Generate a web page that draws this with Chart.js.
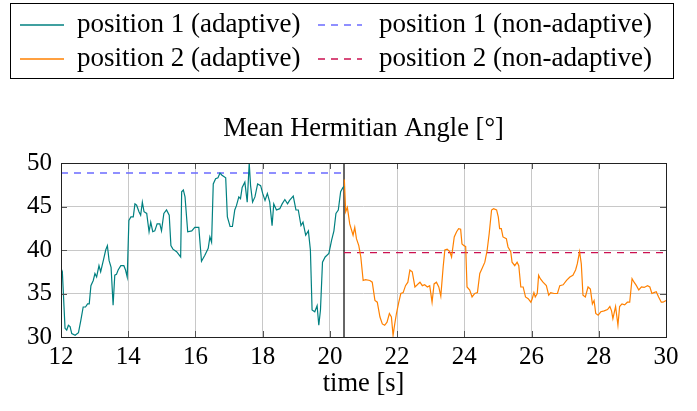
<!DOCTYPE html>
<html>
<head>
<meta charset="utf-8">
<script src="https://cdn.jsdelivr.net/npm/chart.js@4.4.0/dist/chart.umd.min.js"></script>
<style>
  html, body { margin: 0; padding: 0; background: #fff; }
</style>
</head>
<body>
<canvas id="myChart" width="697" height="411"></canvas>
<script>
// time [s] and mean hermitian angle [deg]
const pos1Time = [12.00, 12.04, 12.12, 12.17, 12.22, 12.27, 12.32, 12.42, 12.52, 12.59, 12.66, 12.73, 12.79, 12.84, 12.89, 12.96, 13.01, 13.06, 13.13, 13.18, 13.26, 13.33, 13.38, 13.43, 13.49, 13.55, 13.60, 13.65, 13.70, 13.78, 13.87, 13.92, 13.97, 14.02, 14.08, 14.15, 14.20, 14.25, 14.32, 14.37, 14.42, 14.47, 14.55, 14.62, 14.67, 14.73, 14.79, 14.86, 14.94, 14.99, 15.06, 15.14, 15.22, 15.27, 15.33, 15.44, 15.56, 15.59, 15.64, 15.69, 15.77, 15.89, 15.98, 16.10, 16.18, 16.28, 16.38, 16.43, 16.48, 16.53, 16.60, 16.67, 16.73, 16.79, 16.90, 16.95, 17.03, 17.10, 17.17, 17.22, 17.29, 17.34, 17.39, 17.47, 17.54, 17.60, 17.64, 17.70, 17.77, 17.85, 17.94, 18.00, 18.07, 18.14, 18.21, 18.28, 18.33, 18.41, 18.51, 18.58, 18.66, 18.74, 18.80, 18.91, 18.99, 19.06, 19.14, 19.20, 19.28, 19.36, 19.42, 19.47, 19.55, 19.62, 19.67, 19.72, 19.78, 19.86, 19.97, 20.05, 20.12, 20.18, 20.25, 20.32, 20.39, 20.42];
const pos1Angle = [37.9, 37.5, 31.0, 30.8, 31.35, 31.2, 30.4, 30.2, 30.5, 31.9, 33.45, 33.45, 33.8, 33.8, 35.9, 36.5, 37.3, 36.9, 38.2, 37.5, 38.8, 40.0, 40.5, 38.8, 38.0, 33.65, 37.1, 37.2, 37.7, 38.2, 38.2, 37.7, 36.9, 43.4, 43.8, 43.8, 45.3, 45.15, 44.4, 44.0, 45.5, 44.4, 44.2, 42.1, 43.2, 42.1, 42.2, 43.0, 43.0, 42.2, 44.2, 44.6, 44.0, 40.5, 40.1, 39.8, 39.2, 46.7, 46.9, 46.1, 42.1, 42.2, 42.6, 42.6, 38.7, 39.4, 40.2, 41.5, 40.9, 47.6, 48.2, 48.3, 48.85, 48.6, 48.3, 43.8, 42.7, 42.7, 44.6, 45.1, 46.1, 45.9, 47.2, 47.8, 45.5, 50.0, 47.4, 45.5, 46.1, 47.6, 47.4, 46.5, 45.7, 46.5, 45.5, 42.8, 45.3, 44.6, 44.75, 45.3, 45.8, 45.3, 45.7, 46.2, 44.6, 44.6, 42.8, 43.2, 41.7, 42.2, 40.0, 33.1, 32.9, 33.6, 31.35, 33.1, 38.6, 39.2, 39.6, 41.1, 42.2, 44.2, 44.6, 46.7, 47.2, 47.3];

const pos2Time = [20.43, 20.47, 20.52, 20.59, 20.69, 20.74, 20.79, 20.86, 20.92, 20.99, 21.06, 21.19, 21.26, 21.34, 21.41, 21.49, 21.56, 21.63, 21.70, 21.77, 21.83, 21.88, 21.93, 21.98, 22.05, 22.11, 22.18, 22.25, 22.32, 22.38, 22.45, 22.53, 22.60, 22.68, 22.75, 22.82, 22.90, 22.97, 23.04, 23.10, 23.17, 23.24, 23.30, 23.37, 23.42, 23.49, 23.57, 23.62, 23.70, 23.77, 23.83, 23.89, 23.93, 23.99, 24.04, 24.08, 24.16, 24.23, 24.31, 24.39, 24.46, 24.53, 24.61, 24.68, 24.74, 24.81, 24.87, 24.96, 25.01, 25.05, 25.10, 25.15, 25.25, 25.30, 25.38, 25.42, 25.50, 25.57, 25.62, 25.68, 25.75, 25.82, 25.90, 25.98, 26.02, 26.07, 26.11, 26.17, 26.21, 26.26, 26.34, 26.44, 26.51, 26.57, 26.67, 26.77, 26.84, 26.94, 27.04, 27.14, 27.23, 27.31, 27.36, 27.43, 27.48, 27.53, 27.60, 27.68, 27.75, 27.81, 27.86, 27.91, 27.98, 28.06, 28.16, 28.26, 28.33, 28.38, 28.42, 28.50, 28.57, 28.62, 28.69, 28.77, 28.85, 28.92, 28.99, 29.05, 29.12, 29.19, 29.27, 29.35, 29.45, 29.52, 29.58, 29.64, 29.71, 29.78, 29.86, 29.91, 30.00];
const pos2Angle = [48.1, 44.4, 44.9, 43.0, 41.7, 42.6, 41.3, 40.5, 39.2, 36.5, 36.6, 36.5, 36.3, 34.2, 34.0, 32.3, 31.5, 31.35, 31.7, 32.7, 32.3, 30.2, 31.5, 32.7, 34.0, 35.0, 35.1, 35.9, 36.3, 37.7, 37.5, 35.75, 36.0, 36.3, 35.9, 36.0, 35.75, 35.9, 34.0, 36.1, 36.3, 35.75, 34.7, 38.05, 40.0, 40.1, 39.8, 39.2, 41.5, 42.1, 42.45, 42.4, 40.7, 40.5, 40.4, 35.75, 35.4, 34.6, 35.0, 35.1, 37.3, 37.9, 38.6, 40.0, 41.9, 44.6, 44.75, 44.6, 43.8, 42.45, 42.45, 41.5, 41.3, 40.35, 39.8, 38.6, 38.2, 38.6, 38.2, 35.75, 35.75, 34.6, 34.4, 34.0, 34.4, 35.1, 34.6, 35.0, 37.1, 36.7, 36.3, 35.9, 34.8, 35.1, 35.0, 35.0, 35.9, 36.0, 36.5, 36.9, 37.1, 37.7, 38.4, 39.8, 38.4, 34.8, 34.6, 35.75, 35.5, 33.8, 34.2, 32.7, 32.5, 32.9, 33.0, 33.15, 33.5, 33.0, 32.1, 33.5, 31.35, 33.5, 33.8, 33.7, 34.0, 34.0, 36.7, 36.3, 35.9, 35.4, 35.75, 35.7, 35.9, 35.75, 35.0, 35.1, 35.2, 34.6, 34.0, 34.0, 34.2];

// non-adaptive levels, each held over its own time span
const nonAdaptiveTime1 = [12, 20.42];
const nonAdaptiveAngle1 = [48.85, 48.85];
const nonAdaptiveTime2 = [20.42, 30];
const nonAdaptiveAngle2 = [39.7, 39.7];

// switch between position 1 and position 2
const switchTime = [20.42, 20.42];
const switchAngle = [30, 50];

const xTicks = [12, 14, 16, 18, 20, 22, 24, 26, 28, 30];
const yTicks = [30, 35, 40, 45, 50];

const serif = "'Liberation Serif', 'DejaVu Serif', serif";

function toPoints(xs, ys) {
    return xs.map((x, i) => ({ x: x, y: ys[i] }));
}

// pgfplots style frame, inward ticks, title and boxed legend
const decorations = {
    id: 'decorations',
    afterDatasetsDraw(chart) {
        const ctx = chart.ctx;
        const area = chart.chartArea;
        const xs = chart.scales.x;
        const ys = chart.scales.y;
        ctx.save();

        ctx.strokeStyle = '#555';
        ctx.lineWidth = 1;
        xTicks.forEach(t => {
            const px = Math.round(xs.getPixelForValue(t)) + 0.5;
            ctx.beginPath();
            ctx.moveTo(px, area.bottom); ctx.lineTo(px, area.bottom - 6);
            ctx.moveTo(px, area.top); ctx.lineTo(px, area.top + 6);
            ctx.stroke();
        });
        yTicks.forEach(t => {
            const py = Math.round(ys.getPixelForValue(t)) + 0.5;
            ctx.beginPath();
            ctx.moveTo(area.left, py); ctx.lineTo(area.left + 6, py);
            ctx.moveTo(area.right, py); ctx.lineTo(area.right - 6, py);
            ctx.stroke();
        });

        ctx.strokeStyle = '#222';
        ctx.strokeRect(Math.round(area.left) + 0.5, Math.round(area.top) + 0.5,
            Math.round(area.right - area.left), Math.round(area.bottom - area.top));

        ctx.fillStyle = '#000';
        ctx.font = '26.5px ' + serif;
        ctx.textAlign = 'center';
        ctx.textBaseline = 'alphabetic';
        ctx.fillText('Mean Hermitian Angle [°]', (area.left + area.right) / 2, 136);

        // legend
        ctx.strokeStyle = '#000';
        ctx.lineWidth = 1;
        ctx.strokeRect(10.5, 3.5, 663, 75);
        const cells = [[0, 20, 25, 77], [1, 20, 59, 77], [2, 318, 25, 379], [3, 318, 59, 379]];
        ctx.textAlign = 'left';
        ctx.font = '27px ' + serif;
        cells.forEach(([i, x, y, tx]) => {
            const ds = chart.data.datasets[i];
            ctx.save();
            ctx.strokeStyle = ds.borderColor;
            ctx.lineWidth = 1.5;
            ctx.setLineDash(ds.borderDash || []);
            ctx.beginPath();
            ctx.moveTo(x, y);
            ctx.lineTo(x + 44, y);
            ctx.stroke();
            ctx.restore();
            ctx.fillText(ds.label, tx, y + 6.5);
        });
        ctx.restore();
    }
};

const ctx = document.getElementById('myChart').getContext('2d');
const myChart = new Chart(ctx, {
    type: 'line',
    data: {
        datasets: [
            {
                label: 'position 1 (adaptive)',
                data: toPoints(pos1Time, pos1Angle),
                borderColor: '#008080',
                borderWidth: 1.2
            },
            {
                label: 'position 2 (adaptive)',
                data: toPoints(pos2Time, pos2Angle),
                borderColor: '#ff8000',
                borderWidth: 1.2
            },
            {
                label: 'position 1 (non-adaptive)',
                data: toPoints(nonAdaptiveTime1, nonAdaptiveAngle1),
                borderColor: '#6b6bff',
                borderWidth: 1.3,
                borderDash: [7, 6]
            },
            {
                label: 'position 2 (non-adaptive)',
                data: toPoints(nonAdaptiveTime2, nonAdaptiveAngle2),
                borderColor: '#cc1050',
                borderWidth: 1.3,
                borderDash: [7, 6]
            },
            {
                label: 'switch',
                data: toPoints(switchTime, switchAngle),
                borderColor: '#000',
                borderWidth: 1.2
            }
        ]
    },
    options: {
        responsive: false,
        animation: false,
        elements: { point: { radius: 0 }, line: { tension: 0 } },
        layout: { padding: { top: 163, right: 31, left: 0, bottom: 0 } },
        plugins: {
            legend: { display: false },
            title: { display: false },
            tooltip: { enabled: false }
        },
        scales: {
            x: {
                type: 'linear',
                min: 12,
                max: 30,
                afterBuildTicks: s => { s.ticks = xTicks.map(v => ({ value: v })); },
                afterFit: s => { s.height = 74; },
                grid: { color: '#c8c8c8', drawTicks: false },
                border: { display: false },
                ticks: { color: '#000', padding: 5, font: { family: serif, size: 25 } },
                title: {
                    display: true,
                    text: 'time [s]',
                    color: '#000',
                    font: { family: serif, size: 26.5 },
                    padding: { top: 0, bottom: 11 }
                }
            },
            y: {
                min: 30,
                max: 50,
                afterBuildTicks: s => { s.ticks = yTicks.map(v => ({ value: v })); },
                afterFit: s => { s.width = 61; },
                grid: { color: '#c8c8c8', drawTicks: false },
                border: { display: false },
                ticks: { color: '#000', padding: 9, font: { family: serif, size: 25 } }
            }
        }
    },
    plugins: [decorations]
});
</script>
</body>
</html>
